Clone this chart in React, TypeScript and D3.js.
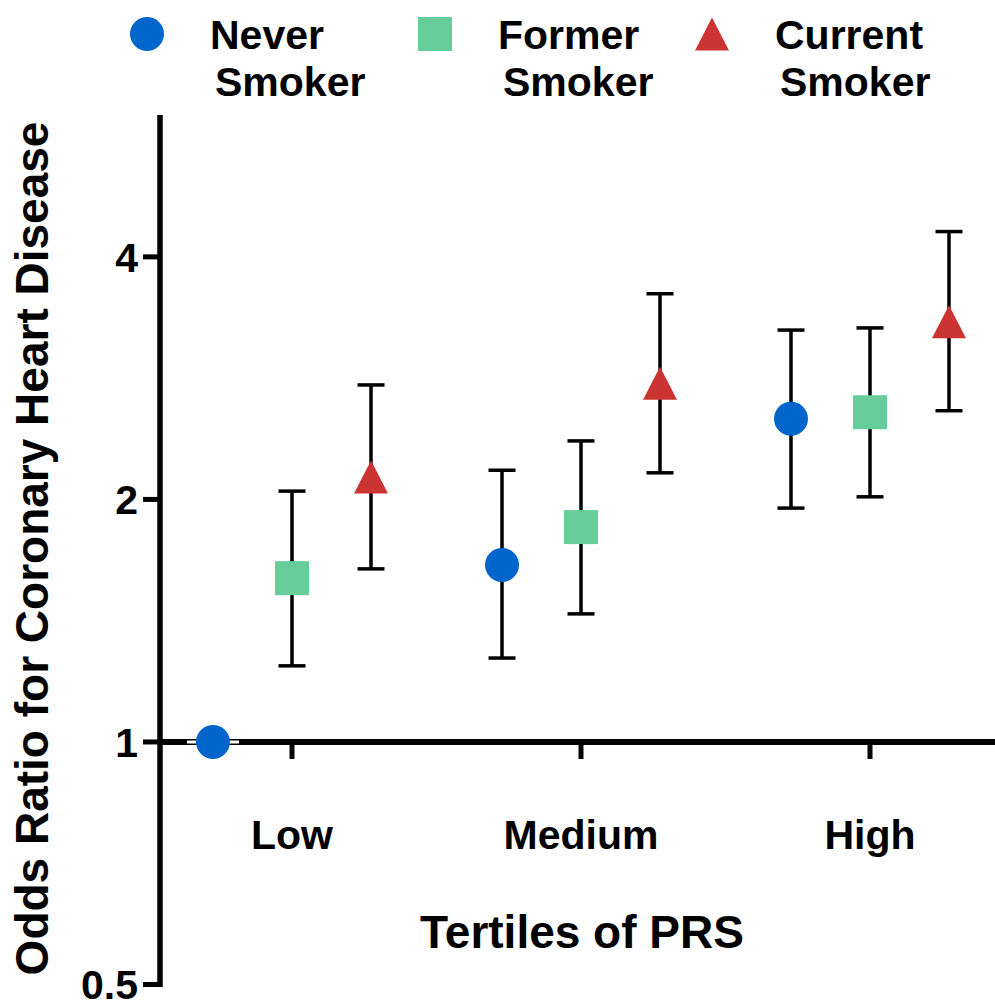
import * as d3 from 'd3';

// data (odds ratio with 95% CI)
const groups = ['Low', 'Medium', 'High'];
const statuses = ['Never', 'Former', 'Current'];
const statusLabels = [['Never', 'Smoker'], ['Former', 'Smoker'], ['Current', 'Smoker']];
const colors = ['#0066CC', '#66CC99', '#CC3333'];

const orNever = [1.0, 1.658, 2.519];
const loNever = [1.0, 1.271, 1.951];
const hiNever = [1.0, 2.174, 3.245];

const orFormer = [1.597, 1.848, 2.566];
const loFormer = [1.243, 1.442, 2.015];
const hiFormer = [2.048, 2.364, 3.265];

const orCurrent = [2.133, 2.787, 3.322];
const loCurrent = [1.64, 2.158, 2.577];
const hiCurrent = [2.774, 3.6, 4.3];

const yTicks = [0.5, 1, 2, 4];
const yDomain = [0.5, 6];

const W = 995;
const H = 1005;
const AXIS_X = 160;
const FONT = '"Liberation Sans", Arial, Helvetica, sans-serif';
const MARK = 34;
const CAP = 27;

function Marker({ kind, x, y, color }: { kind: number; x: number; y: number; color: string }) {
  const h = MARK / 2;
  if (kind === 0) return <circle cx={x} cy={y} r={h} fill={color} />;
  if (kind === 1) return <rect x={x - h} y={y - h} width={MARK} height={MARK} fill={color} />;
  const th = 33;
  return (
    <path
      d={`M${x},${y - th / 2}L${x + h},${y + th / 2}L${x - h},${y + th / 2}Z`}
      fill={color}
    />
  );
}

export default function App() {
  const y = d3.scaleLog().base(2).domain(yDomain).range([984.5, 115]);
  const x = d3.scalePoint<string>().domain(groups).range([292, 870]);
  const off = d3.scalePoint<string>().domain(statuses).range([-79, 79]);

  const series = [
    { or: orNever, lo: loNever, hi: hiNever },
    { or: orFormer, lo: loFormer, hi: hiFormer },
    { or: orCurrent, lo: loCurrent, hi: hiCurrent },
  ];

  const y1 = y(1);
  const legendX = [147, 435, 712];

  return (
    <svg width={W} height={H} style={{ position: 'absolute', left: 0, top: 0 }} fontFamily={FONT} fontWeight="bold">
      <rect width={W} height={H} fill="#fff" />

      {/* legend */}
      {statuses.map((s, i) => (
        <g key={s}>
          <Marker kind={i} x={legendX[i]} y={34} color={colors[i]} />
          <text x={legendX[i] + 63} y={49} fontSize={41} fill="#000">
            <tspan x={legendX[i] + 63} y={49}>{statusLabels[i][0]}</tspan>
            <tspan x={legendX[i] + 68} y={96}>{statusLabels[i][1]}</tspan>
          </text>
        </g>
      ))}

      {/* y axis */}
      <line x1={AXIS_X} x2={AXIS_X} y1={y(yDomain[1])} y2={y(yDomain[0]) + 2.5} stroke="#000" strokeWidth={5.5} />
      {yTicks.map((t) => (
        <g key={t}>
          <line x1={AXIS_X - 17} x2={AXIS_X} y1={y(t)} y2={y(t)} stroke="#000" strokeWidth={5} />
          <text x={AXIS_X - 22} y={y(t)} dy="0.36em" textAnchor="end" fontSize={41}>
            {t}
          </text>
        </g>
      ))}

      {/* x axis at OR = 1 */}
      <line x1={AXIS_X} x2={W} y1={y1} y2={y1} stroke="#000" strokeWidth={6} />
      {groups.map((g) => (
        <g key={g}>
          <line x1={x(g)} x2={x(g)} y1={y1} y2={y1 + 17} stroke="#000" strokeWidth={5} />
          <text x={x(g)} y={849} textAnchor="middle" fontSize={41}>
            {g}
          </text>
        </g>
      ))}

      {/* axis titles */}
      <text x={582} y={948} textAnchor="middle" fontSize={46}>
        Tertiles of PRS
      </text>
      <text transform="translate(48,548.5) rotate(-90)" textAnchor="middle" fontSize={46}>
        Odds Ratio for Coronary Heart Disease
      </text>

      {/* error bars and points */}
      {series.map((sr, si) =>
        groups.map((g, gi) => {
          const cx = (x(g) as number) + (off(statuses[si]) as number);
          const lo = sr.lo[gi];
          const hi = sr.hi[gi];
          return (
            <g key={`${si}-${gi}`}>
              {lo === hi ? (
                <line x1={cx - 26} x2={cx + 26} y1={y(lo)} y2={y(lo)} stroke="#fff" strokeWidth={3} />
              ) : (
                <g stroke="#000" strokeWidth={3.5}>
                  <line x1={cx} x2={cx} y1={y(lo)} y2={y(hi)} />
                  <line x1={cx - CAP / 2} x2={cx + CAP / 2} y1={y(lo)} y2={y(lo)} />
                  <line x1={cx - CAP / 2} x2={cx + CAP / 2} y1={y(hi)} y2={y(hi)} />
                </g>
              )}
              <Marker kind={si} x={cx} y={y(sr.or[gi])} color={colors[si]} />
            </g>
          );
        })
      )}
    </svg>
  );
}
